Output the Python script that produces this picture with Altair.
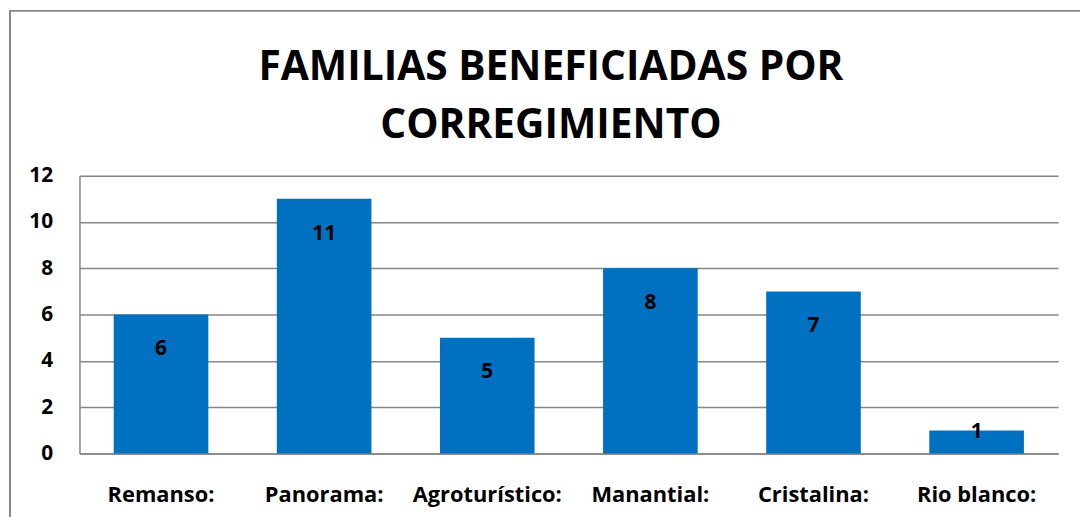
import altair as alt
import pandas as pd

categories = ["Remanso:", "Panorama:", "Agroturístico:", "Manantial:", "Cristalina:", "Rio blanco:"]
values = [6, 11, 5, 8, 7, 1]
y_ticks = [0, 2, 4, 6, 8, 10, 12]
title_lines = ["FAMILIAS BENEFICIADAS POR", "CORREGIMIENTO"]

df = pd.DataFrame({"cat": categories, "val": values})

W, H = 986, 280
FONT = "Open Sans"
GRID = "#868686"
BAR = "#0070C0"

x_enc = alt.X(
    "cat:N", sort=categories, title=None,
    scale=alt.Scale(paddingInner=0.42, paddingOuter=0.21),
    axis=alt.Axis(labelAngle=0, labelFont=FONT, labelFontWeight="bold", labelFontSize=22,
                  labelColor="black", labelPadding=31, ticks=False,
                  domainColor=GRID, domainWidth=1.5),
)
y_enc = alt.Y(
    "val:Q", title=None, scale=alt.Scale(domain=[0, 12]),
    axis=alt.Axis(values=y_ticks, ticks=False, grid=True, gridColor=GRID, gridWidth=1.5,
                  domainColor=GRID, domainWidth=1.5, labelFont=FONT, labelFontWeight="bold",
                  labelFontSize=21, labelColor="black", labelPadding=27),
)

bars = alt.Chart(df).mark_bar(color=BAR).encode(x=x_enc, y=y_enc)

labels = alt.Chart(df).transform_calculate(
    ly="datum.val >= 3 ? datum.val - 1.5 : datum.val - 0.06"
).mark_text(font=FONT, fontWeight="bold", fontSize=21, color="black", baseline="middle").encode(
    x=alt.X("cat:N", sort=categories),
    y=alt.Y("ly:Q"),
    text=alt.Text("val:Q"),
)

frame = alt.Chart(pd.DataFrame({"f": [0]})).mark_rect(
    fill="transparent", stroke=GRID, strokeWidth=2
).encode(
    x=alt.value(-70), x2=alt.value(W + 200), y=alt.value(-166), y2=alt.value(H + 200)
)

title = alt.Chart(pd.DataFrame({"t": ["\n".join(title_lines)]})).mark_text(
    font=FONT, fontWeight="bold", fontSize=41, color="black", lineBreak="\n",
    lineHeight=58, align="center", baseline="alphabetic"
).encode(
    x=alt.value(475), y=alt.value(-96), text="t:N"
)

chart = alt.layer(frame, bars, labels, title).properties(
    width=W, height=H,
    autosize=alt.AutoSizeParams(type="none"),
    padding={"left": 72, "top": 167, "right": 22, "bottom": 62},
).configure_view(stroke=None)

chart.save("out.html", embed_options={"renderer": "svg", "actions": False})
